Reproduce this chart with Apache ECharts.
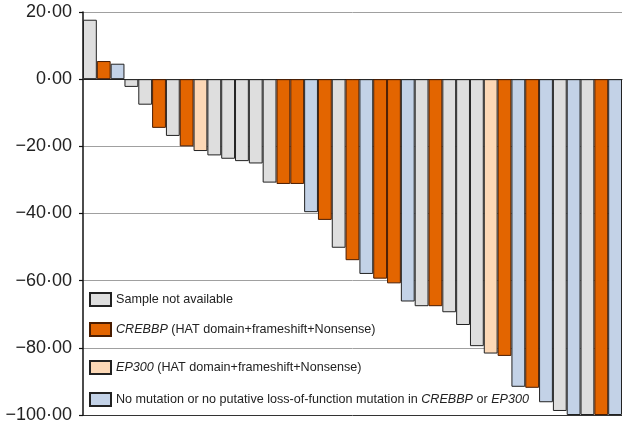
<!DOCTYPE html>
<html>
<head>
<meta charset="utf-8">
<script src="https://cdn.jsdelivr.net/npm/echarts@6/dist/echarts.min.js"></script>
<style>
  html, body { margin: 0; padding: 0; background: #fff; }
  #chart { width: 625px; height: 428px; }
</style>
</head>
<body>
<div id="chart"></div>
<script>
// patients, ordered by change from baseline
const patients = Array.from({ length: 39 }, (_, i) => 'P' + (i + 1));
const changes = [
  17.7, 5.4, 4.6, -2.3, -7.6, -14.5, -16.9, -20.0, -21.4, -22.7,
  -23.7, -24.4, -25.1, -30.8, -31.2, -31.2, -39.6, -41.9, -50.2, -53.9,
  -58.0, -59.4, -60.8, -66.2, -67.6, -67.6, -69.4, -73.2, -79.5, -81.7,
  -82.4, -91.6, -91.9, -96.2, -98.8, -100, -100, -100, -100
];
// 0 = sample not available, 1 = CREBBP, 2 = EP300, 3 = no mutation
const groups = [
  0, 1, 3, 0, 0, 1, 0, 1, 2, 0,
  0, 0, 0, 0, 1, 1, 3, 1, 0, 1,
  3, 1, 1, 3, 0, 1, 0, 0, 0, 2,
  1, 3, 1, 3, 0, 3, 0, 1, 3
];
const groupNames = [
  'Sample not available',
  'CREBBP (HAT domain+frameshift+Nonsense)',
  'EP300 (HAT domain+frameshift+Nonsense)',
  'No mutation or no putative loss-of-function mutation in CREBBP or EP300'
];
const groupColors = ['#dedede', '#e36500', '#fcd8b6', '#c3d2e7'];
const groupBorders = ['#222', '#4a1c00', '#222', '#222'];
const yTicks = [20, 0, -20, -40, -60, -80, -100];

// legend labels with gene names in italics
const legendRich = {
  'CREBBP (HAT domain+frameshift+Nonsense)': '{i|CREBBP} (HAT domain+frameshift+Nonsense)',
  'EP300 (HAT domain+frameshift+Nonsense)': '{i|EP300} (HAT domain+frameshift+Nonsense)',
  'No mutation or no putative loss-of-function mutation in CREBBP or EP300':
    'No mutation or no putative loss-of-function mutation in {i|CREBBP} or {i|EP300}'
};
const legendTops = [292, 322, 360, 392];

const fmtTick = v => (v < 0 ? '\u2212' : '') + Math.abs(v).toFixed(2).replace('.', '\u00b7');

const series = groupNames.map((name, g) => ({
  name: name,
  type: 'bar',
  stack: 'all',
  barCategoryGap: 0,
  data: changes.map((v, i) => (groups[i] === g ? v : '-')),
  itemStyle: { color: groupColors[g], borderColor: groupBorders[g], borderWidth: 1 },
  emphasis: { disabled: true }
}));

const legends = groupNames.map((name, g) => ({
  data: [name],
  left: 89,
  top: legendTops[g],
  padding: 0,
  icon: 'rect',
  itemWidth: 21,
  itemHeight: 13,
  itemGap: 6,
  selectedMode: false,
  formatter: n => legendRich[n] || n,
  textStyle: {
    fontFamily: 'Liberation Sans, Arial, sans-serif',
    fontSize: 12.6,
    color: '#222',
    rich: { i: { fontStyle: 'italic', fontFamily: 'Liberation Sans, Arial, sans-serif', fontSize: 12.6, color: '#222' } }
  }
}));

const chart = echarts.init(document.getElementById('chart'));
chart.setOption({
  animation: false,
  grid: { left: 83, right: 3, top: 12, bottom: 13, containLabel: false },
  legend: legends,
  xAxis: {
    type: 'category',
    data: patients,
    axisLine: { onZero: true, lineStyle: { color: '#222', width: 1 } },
    axisTick: { show: false },
    axisLabel: { show: false },
    splitLine: { show: false }
  },
  yAxis: {
    type: 'value',
    min: yTicks[yTicks.length - 1],
    max: yTicks[0],
    interval: 20,
    axisLine: { show: true, lineStyle: { color: '#111', width: 1.5 } },
    axisTick: { show: true, length: 4, lineStyle: { color: '#111', width: 1.2 } },
    axisLabel: {
      formatter: fmtTick,
      margin: 11,
      fontFamily: 'Liberation Sans, Arial, sans-serif',
      fontSize: 18,
      color: '#222'
    },
    splitLine: {
      show: true,
      lineStyle: { color: ['#333', '#a0a0a0', '#a0a0a0', '#a0a0a0', '#a0a0a0', '#a0a0a0', '#a0a0a0'], width: 1 }
    }
  },
  series: series
});
</script>
</body>
</html>
